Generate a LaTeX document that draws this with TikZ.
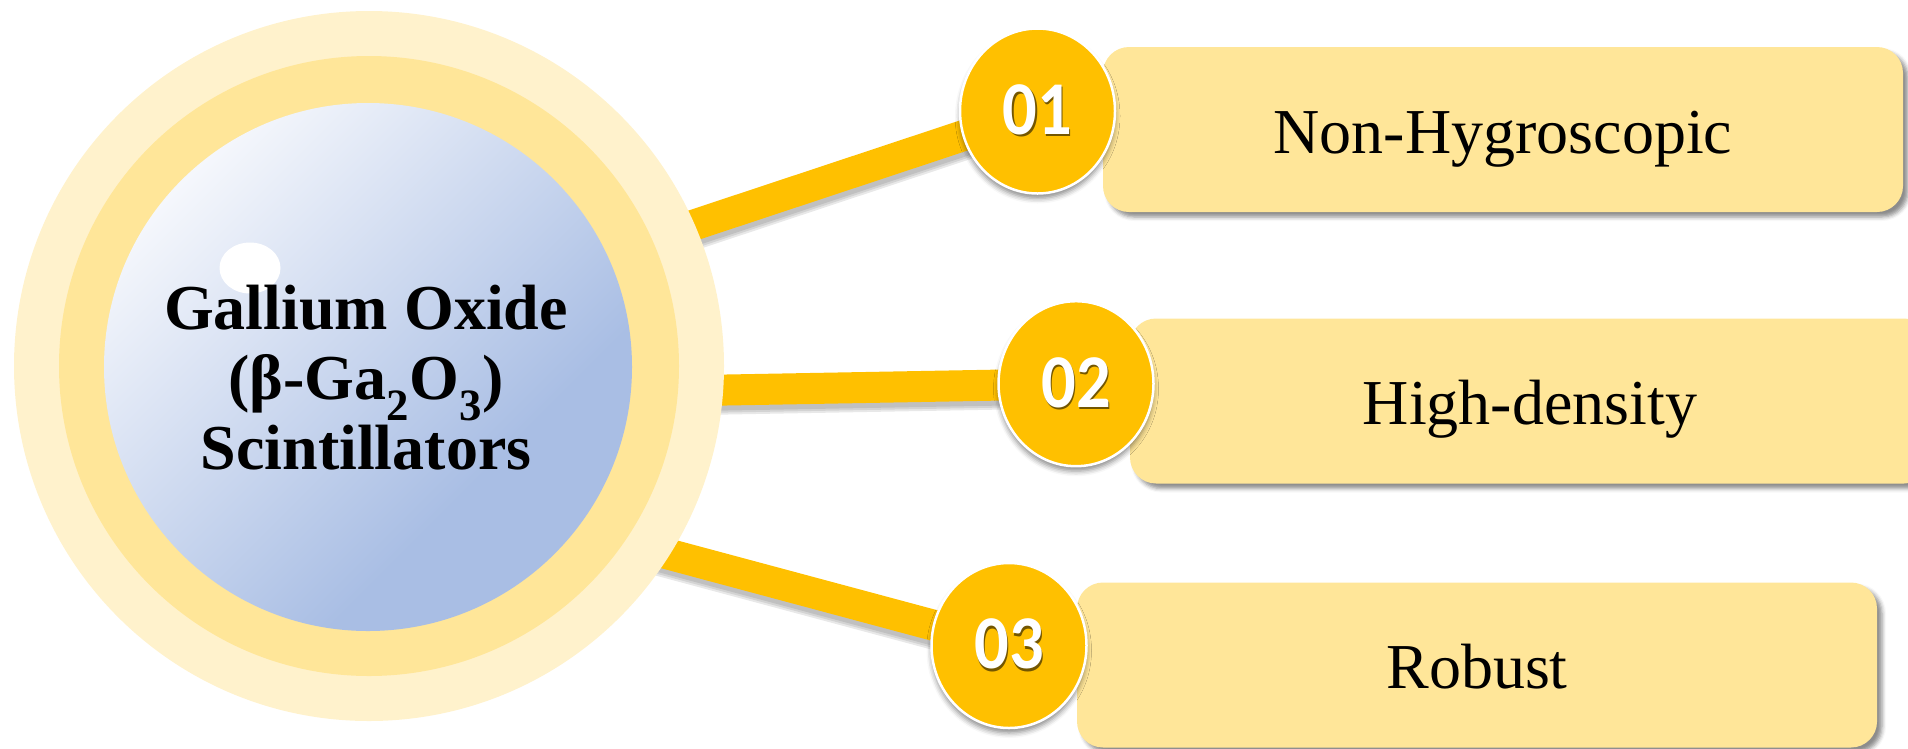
\documentclass[tikz,border=0pt]{standalone}
\usepackage{fontspec}
\setmainfont{Liberation Serif}
\newfontfamily\badgefont{Carlito}
\usetikzlibrary{shapes.geometric,shadows.blur}

\definecolor{ringpale}{HTML}{FFF2CC}
\definecolor{ringgold}{HTML}{FFE699}
\definecolor{amber}{HTML}{FFC000}
\definecolor{coreblue}{HTML}{A9BEE4}
\definecolor{corelight}{HTML}{F5F7FC}
\definecolor{cardfill}{HTML}{FFE699}

% soft diagonal fill for the central disc
\pgfdeclareverticalshading{corefade}{100bp}{color(0bp)=(coreblue); color(35bp)=(coreblue); color(75bp)=(corelight); color(100bp)=(corelight)}

\pgfdeclarelayer{bg}
\pgfsetlayers{bg,main}

% condensed number with a dark offset copy underneath
\newcommand\badgenum[1]{\scalebox{0.9}[1]{\rlap{\kern1.5pt\raisebox{-2.5pt}{\textcolor{black!55!amber}{#1}}}\textcolor{white}{#1}}}

\begin{document}
\begin{tikzpicture}[x=1pt,y=-1pt,
  ring/.style={circle, inner sep=0pt},
  badge/.style={ellipse, fill=amber, draw=white, line width=2.5pt,
    minimum width=155pt, minimum height=165pt, inner sep=0pt,
    font=\badgefont\bfseries\fontsize{76}{76}\selectfont,
    blur shadow={shadow xshift=0pt, shadow yshift=-5pt, shadow opacity=45, shadow blur radius=5pt}},
  card/.style={rounded corners=26pt, fill=cardfill, inner sep=0pt,
    minimum width=800pt, minimum height=165pt,
    text height=47pt, text depth=0pt,
    font=\fontsize{64}{70}\selectfont,
    blur shadow={shadow xshift=5pt, shadow yshift=-5pt, shadow opacity=45, shadow blur radius=4pt}},
  link/.style={amber, line width=31pt},
  linkshade/.style={black, opacity=0.09, transform canvas={xshift=1pt, yshift=-6pt}}
]
\useasboundingbox (0,0) rectangle (1908,748);

% central disc with its two rings
\node[ring, fill=ringpale, minimum size=710pt] (outer) at (369,366) {};
\node[ring, fill=ringgold, minimum size=620pt] (middle) at (369,366) {};
\node[ring, shading=corefade, shading angle=45, minimum size=528pt] (hub) at (368,367) {};
\node[ellipse, fill=white, minimum width=61pt, minimum height=51pt, inner sep=0pt] (glint) at (250,268) {};
\node[align=center, font=\fontsize{64}{70}\selectfont\bfseries] (title) at (366,378)
  {Gallium Oxide\\(β-Ga\textsubscript{2}O\textsubscript{3})\\Scintillators};

% property cards
\node[card] (c1) at (1503,129.5) {Non-Hygroscopic};
\node[card] (c2) at (1530,401) {High-density};
\node[card] (c3) at (1477,665) {Robust};

% numbered badges
\node[badge] (b1) at (1037.5,111) {\badgenum{01}};
\node[badge] (b2) at (1076,383.7) {\badgenum{02}};
\node[badge] (b3) at (1009,645.5) {\badgenum{03}};

% connectors from the disc to the badges
\coordinate (s1) at (500,289.4);
\coordinate (s2) at (560,393);
\coordinate (s3) at (560,525);

\begin{pgfonlayer}{bg}
  \foreach \s/\b in {s1/b1, s2/b2, s3/b3} {
    \draw[linkshade, line width=37pt] (\s) -- (\b.center);
    \draw[linkshade, line width=33pt] (\s) -- (\b.center);
    \draw[linkshade, line width=29pt] (\s) -- (\b.center);
    \draw[link] (\s) -- (\b.center);
  }
\end{pgfonlayer}
\end{tikzpicture}
\end{document}
